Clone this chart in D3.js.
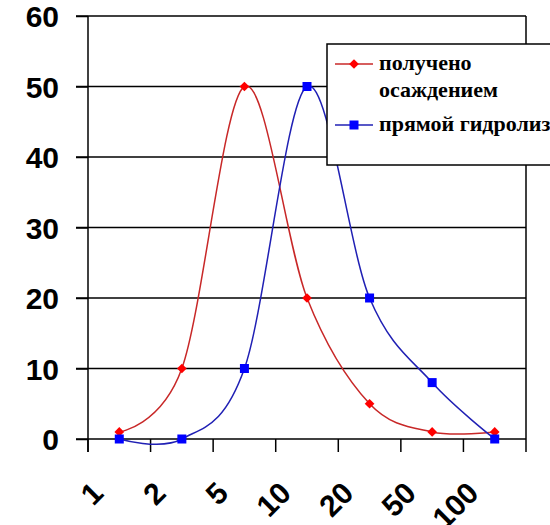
<!DOCTYPE html>
<html>
<head>
<meta charset="utf-8">
<script src="https://cdn.jsdelivr.net/npm/d3@7"></script>
<style>
body { margin: 0; background: #fff; }
.axis text { font-family: "Liberation Sans", Arial, sans-serif; font-weight: bold; font-size: 30px; fill: #000; }
.axis path, .axis line { stroke: #000; stroke-width: 1.5; }
.legend text { font-family: "Liberation Serif", "Times New Roman", serif; font-weight: bold; font-size: 22px; }
</style>
</head>
<body>
<svg width="550" height="525"></svg>
<script>
var categories = ["1", "2", "5", "10", "20", "50", "100"];
var osazhdeniem = [1, 10, 50, 20, 5, 1, 1];
var gidroliz = [0, 0, 10, 50, 20, 8, 0];
var yTicks = [0, 10, 20, 30, 40, 50, 60];

var svg = d3.select("svg");
var plotLeft = 88, plotRight = 526, plotTop = 16, plotBottom = 439;

var xScale = d3.scaleBand().domain(d3.range(categories.length)).range([plotLeft, plotRight]);
var yScale = d3.scaleLinear().domain([0, 60]).range([plotBottom, plotTop]);

// gridlines
svg.append("g")
  .selectAll("line")
  .data(yTicks)
  .enter()
  .append("line")
  .attr("x1", plotLeft - 12)
  .attr("x2", plotRight)
  .attr("y1", d => yScale(d))
  .attr("y2", d => yScale(d))
  .attr("stroke", "#000")
  .attr("stroke-width", 1.5);

// right border
svg.append("line")
  .attr("x1", plotRight).attr("x2", plotRight)
  .attr("y1", plotTop).attr("y2", plotBottom)
  .attr("stroke", "#000").attr("stroke-width", 1.5);

// y axis
var yAxis = svg.append("g")
  .attr("class", "axis")
  .attr("transform", "translate(" + plotLeft + ",0)")
  .call(d3.axisLeft(yScale).tickValues(yTicks).tickSize(12).tickPadding(17));
yAxis.select(".domain").remove();
yAxis.append("line")
  .attr("x1", 0).attr("x2", 0)
  .attr("y1", plotTop).attr("y2", plotBottom + 13)
  .attr("stroke", "#000").attr("stroke-width", 1.5);
yAxis.selectAll("text").attr("dy", "0.36em");

// x axis ticks at band edges
var edges = d3.range(categories.length + 1).map(i => plotLeft + i * xScale.bandwidth());
svg.append("g")
  .selectAll("line")
  .data(edges)
  .enter()
  .append("line")
  .attr("x1", d => d).attr("x2", d => d)
  .attr("y1", plotBottom).attr("y2", plotBottom + 13)
  .attr("stroke", "#000").attr("stroke-width", 1.5);

// x labels, rotated
svg.append("g")
  .attr("class", "axis")
  .selectAll("text")
  .data(categories)
  .enter()
  .append("text")
  .attr("text-anchor", "end")
  .attr("font-size", 28)
  .attr("transform", (d, i) => "translate(" + (xScale(i) + 17) + "," + (plotBottom + 56) + ") rotate(-45)")
  .text(d => d);

var line = d3.line()
  .x((d, i) => xScale(i) + xScale.bandwidth() / 2)
  .y(d => yScale(d))
  .curve(d3.curveCardinal.tension(0));

svg.append("path")
  .datum(osazhdeniem)
  .attr("fill", "none")
  .attr("stroke", "#c82828")
  .attr("stroke-width", 1.5)
  .attr("d", line);

svg.append("path")
  .datum(gidroliz)
  .attr("fill", "none")
  .attr("stroke", "#2020b4")
  .attr("stroke-width", 1.5)
  .attr("d", line);

var diamond = d3.symbol().type(d3.symbolDiamond2).size(60);

svg.append("g")
  .selectAll("path")
  .data(osazhdeniem)
  .enter()
  .append("path")
  .attr("d", diamond)
  .attr("transform", (d, i) => "translate(" + (xScale(i) + xScale.bandwidth() / 2) + "," + yScale(d) + ")")
  .attr("fill", "#ff0000");

svg.append("g")
  .selectAll("rect")
  .data(gidroliz)
  .enter()
  .append("rect")
  .attr("x", (d, i) => xScale(i) + xScale.bandwidth() / 2 - 4.5)
  .attr("y", d => yScale(d) - 4.5)
  .attr("width", 9)
  .attr("height", 9)
  .attr("fill", "#0000ff");

// legend
var legend = svg.append("g").attr("class", "legend");
legend.append("rect")
  .attr("x", 327).attr("y", 44)
  .attr("width", 250).attr("height", 121)
  .attr("fill", "#fff").attr("stroke", "#000").attr("stroke-width", 1.5);

var items = [
  { lines: ["получено", "осаждением"], y: 64, color: "#c82828", marker: "#ff0000", shape: "diamond" },
  { lines: ["прямой гидролиз"], y: 125, color: "#2020b4", marker: "#0000ff", shape: "square" }
];
items.forEach(function(it) {
  legend.append("line")
    .attr("x1", 335).attr("x2", 373)
    .attr("y1", it.y).attr("y2", it.y)
    .attr("stroke", it.color).attr("stroke-width", 1.5);
  if (it.shape === "diamond") {
    legend.append("path").attr("d", diamond)
      .attr("transform", "translate(354," + it.y + ")")
      .attr("fill", it.marker);
  } else {
    legend.append("rect")
      .attr("x", 349.5).attr("y", it.y - 4.5)
      .attr("width", 9).attr("height", 9)
      .attr("fill", it.marker);
  }
  it.lines.forEach(function(t, j) {
    legend.append("text")
      .attr("x", 379)
      .attr("y", it.y + 6 + j * 27)
      .text(t);
  });
});
</script>
</body>
</html>
